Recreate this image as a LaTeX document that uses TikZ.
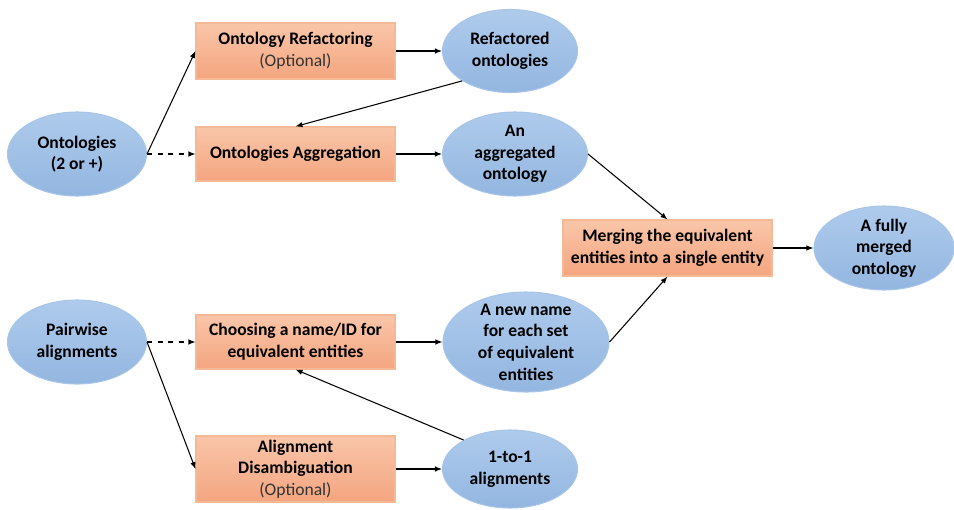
\documentclass[tikz,border=0pt]{standalone}
\usepackage{fontspec}
\setmainfont{Carlito}
\usetikzlibrary{arrows.meta,shapes.geometric}

\definecolor{boxtop}{HTML}{F9C6A9}
\definecolor{boxbot}{HTML}{F4A57F}
\definecolor{boxline}{HTML}{F6B995}
\definecolor{elltop}{HTML}{AECBEC}
\definecolor{ellbot}{HTML}{93B6E0}
\definecolor{ellline}{HTML}{A8C5E7}

\begin{document}
\begin{tikzpicture}[task/.style={draw=boxline, top color=boxtop, bottom color=boxbot, line width=0.6pt, minimum width=3.98cm, minimum height=1.1cm, inner sep=0pt, align=center, font=\fontsize{10}{12.3}\selectfont\bfseries},result/.style={ellipse, draw=ellline, top color=elltop, bottom color=ellbot, line width=0.6pt, inner sep=0pt, align=center, font=\fontsize{10}{12.3}\selectfont\bfseries},flow/.style={line width=0.6pt, -{Latex[length=1.4mm,width=1.1mm]}},optflow/.style={flow, dashed}]
\useasboundingbox (0,0) rectangle (19.08,10.18);
% inputs
\node[result, minimum width=2.78cm, minimum height=1.68cm] (onto) at (1.54,7.10) {Ontologies\\(2 or +)};
\node[result, minimum width=2.78cm, minimum height=1.68cm] (pair) at (1.54,3.34) {Pairwise\\alignments};
% steps
\node[task, minimum height=1.12cm] (refac) at (5.91,9.16) {Ontology Refactoring\\{\mdseries\color{black!80}(Optional)}};
\node[task, minimum height=1.08cm] (agg) at (5.91,7.10) {Ontologies Aggregation};
\node[task, minimum height=1.08cm] (choose) at (5.91,3.34) {Choosing a name/ID for\\equivalent entities};
\node[task, minimum height=1.32cm] (disamb) at (5.91,0.80) {Alignment\\Disambiguation\\{\mdseries\color{black!80}(Optional)}};
\node[task, minimum width=4.18cm, minimum height=1.12cm] (merge) at (13.35,5.22) {Merging the equivalent\\entities into a single entity};
% results
\node[result, minimum width=2.70cm, minimum height=1.66cm] (refd) at (10.20,9.16) {Refactored\\ontologies};
\node[result, minimum width=2.90cm, minimum height=1.68cm] (aggd) at (10.30,7.10) {An\\aggregated\\ontology};
\node[result, minimum width=3.32cm, minimum height=2.00cm, inner ysep=-5pt] (newn) at (10.52,3.34) {A new name\\for each set\\of equivalent\\entities};
\node[result, minimum width=2.70cm, minimum height=1.56cm] (one) at (10.20,0.80) {1-to-1\\alignments};
\node[result, minimum width=2.80cm, minimum height=1.68cm] (fully) at (17.68,5.22) {A fully\\merged\\ontology};
% connectors
\draw[flow] (onto.east) -- (refac.west);
\draw[optflow] (onto.east) -- (agg.west);
\draw[flow] (refac) -- (refd);
\draw[flow] (refd.212) -- (agg.north);
\draw[flow] (agg) -- (aggd);
\draw[flow] (aggd.east) -- (merge.north);
\draw[flow] (merge) -- (fully);
\draw[optflow] (pair.east) -- (choose.west);
\draw[flow] (pair.east) -- (disamb.west);
\draw[flow] (choose) -- (newn);
\draw[flow] (newn.east) -- (merge.south);
\draw[flow] (disamb) -- (one);
\draw[flow] (one.148) -- (choose.south);
\end{tikzpicture}
\end{document}
